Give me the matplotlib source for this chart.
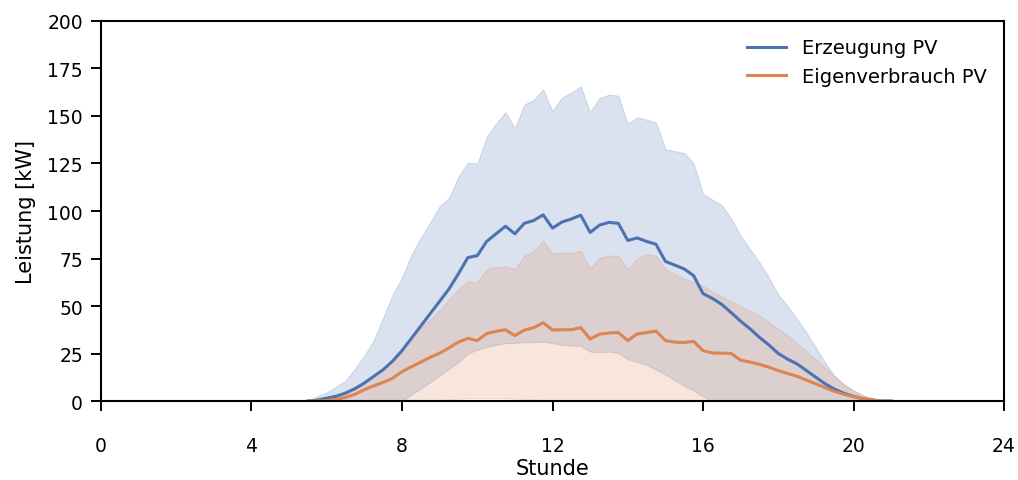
import matplotlib
matplotlib.use("Agg")
import matplotlib.pyplot as plt
import numpy as np

# 15-minute time steps (hours)
hours = [5.50, 5.75, 6.00, 6.25, 6.50, 6.75, 7.00, 7.25, 7.50, 7.75,
         8.00, 8.25, 8.50, 8.75, 9.00, 9.25, 9.50, 9.75, 10.00, 10.25,
         10.50, 10.75, 11.00, 11.25, 11.50, 11.75, 12.00, 12.25, 12.50, 12.75,
         13.00, 13.25, 13.50, 13.75, 14.00, 14.25, 14.50, 14.75, 15.00, 15.25,
         15.50, 15.75, 16.00, 16.25, 16.50, 16.75, 17.00, 17.25, 17.50, 17.75,
         18.00, 18.25, 18.50, 18.75, 19.00, 19.25, 19.50, 19.75, 20.00, 20.25,
         20.50, 20.75, 21.00]

# Erzeugung PV: mean, lower and upper band
pv_mean = [0, 0.5, 1.5, 2.5, 4.2, 6.5, 9.5, 13, 16.5, 21,
           26.5, 33, 39.5, 46, 52.5, 59, 67, 75.5, 76.5, 84,
           88, 92, 88, 93.5, 95, 98, 91, 94.2, 95.8, 97.8,
           88.7, 92.6, 94, 93.5, 84.5, 85.8, 84, 82.5, 73.5, 71.5,
           69.5, 66, 56.5, 54, 50.8, 46.5, 42, 38, 33.5, 29.5,
           25, 22, 19.5, 16, 12.5, 9, 6.2, 4, 2.5, 1.2,
           0.5, 0, 0]
pv_lo = [0, 0, 0, 0, 0, 0, 0, 0, 0, 0,
         0, 3.5, 6.5, 10, 13.5, 17, 20.5, 25, 27, 28.5,
         29.5, 30.5, 30.5, 31, 31, 31.2, 30.5, 29.5, 29.2, 29,
         26, 25.8, 26, 25.2, 22, 20.5, 19, 16.5, 14, 11,
         8, 5.5, 2.5, 0, 0, 0, 0, 0, 0, 0,
         0, 0, 0, 0, 0, 0, 0, 0, 0, 0,
         0, 0, 0]
pv_hi = [0, 2.5, 4.5, 7.5, 10.7, 17, 24, 32, 44, 56,
         65, 77, 86, 94, 102.5, 107, 118, 125.5, 125, 139,
         146, 152, 143.5, 156, 158.5, 164, 152.5, 159.8, 162.4, 165.6,
         152, 159.5, 161.2, 160.7, 145.8, 149.3, 148, 146.5, 132.5, 131.5,
         130.5, 125, 109, 106, 103, 96, 87, 80, 73, 65,
         56, 50, 43, 36, 28, 20, 13, 8.5, 5.5, 3,
         1.5, 0, 0]

# Eigenverbrauch PV: mean, lower and upper band
ev_mean = [0, 0, 0.3, 0.8, 2, 3.5, 6, 8, 9.8, 12,
           15.5, 18, 20.5, 23, 25.2, 28, 31, 33, 31.8, 35.5,
           36.7, 37.5, 34.4, 37.3, 38.6, 41.2, 37.4, 37.5, 37.5, 38.6,
           32.6, 35.2, 35.8, 36, 31.8, 35.3, 36, 36.8, 31.8, 31,
           30.8, 31.4, 26.5, 25.3, 25.2, 25, 21.5, 20.5, 19.3, 17.8,
           16, 14.5, 13, 11, 9, 7, 5, 3.5, 2.3, 1.2,
           0.5, 0, 0]
ev_lo = [0, 0, 0, 0, 0, 0, 0, 0, 0, 0,
         0, 0, 0, 0, 0.3, 0.8, 1.2, 1.5, 1.5, 1.5,
         1.5, 1.5, 1.2, 1, 0.8, 0.4, 0, 0, 0, 0,
         0, 0, 0, 0, 0, 0, 0, 0, 0, 0,
         0, 0, 0, 0, 0, 0, 0, 0, 0, 0,
         0, 0, 0, 0, 0, 0, 0, 0, 0, 0,
         0, 0, 0]
ev_hi = [0, 0.5, 1.5, 3, 5, 7.5, 10, 13, 16.5, 22,
         28, 34, 38.5, 43, 48, 53.5, 59, 63, 62.5, 69.5,
         70.5, 71, 69.5, 76.5, 79, 84.5, 77.5, 78.2, 78, 79,
         69.5, 75.5, 76.5, 76.5, 69.5, 75, 77.4, 76.5, 69.5, 67,
         64.5, 62.5, 60.5, 57.5, 55, 52.5, 50, 47.5, 45, 41.5,
         38, 34.5, 30.5, 26, 22, 17.5, 13, 9, 5.5, 3,
         1.2, 0, 0]

labels = ["Erzeugung PV", "Eigenverbrauch PV"]
colors = ["#4c72b0", "#dd8452"]
x_ticks = [0, 4, 8, 12, 16, 20, 24]
y_ticks = [0, 25, 50, 75, 100, 125, 150, 175, 200]

plt.rcParams['font.family'] = ['DejaVu Sans']
plt.rcParams['font.size'] = 13.5

fig = plt.figure(figsize=(10.18, 4.81), dpi=100)
ax = fig.add_axes([0.0992, 0.1642, 0.8871, 0.7901])

for mean, lo, hi, lab, col in [(pv_mean, pv_lo, pv_hi, labels[0], colors[0]),
                                (ev_mean, ev_lo, ev_hi, labels[1], colors[1])]:
    ax.plot(hours, mean, color=col, lw=2.2, label=lab)
    ax.fill_between(hours, lo, hi, color=col, alpha=0.2, linewidth=0.8)

ax.set_xlim(0, 24)
ax.set_ylim(0, 200)
ax.set_xticks(x_ticks, labels=[str(v) for v in x_ticks], fontsize=13.5)
ax.set_yticks(y_ticks, labels=[str(v) for v in y_ticks], fontsize=13.5)
ax.tick_params(axis='both', length=7, width=1.4)
ax.tick_params(axis='x', pad=18)
ax.tick_params(axis='y', pad=6)
for s in ax.spines.values():
    s.set_linewidth(1.5)
ax.set_xlabel("Stunde", fontsize=15, labelpad=2)
ax.set_ylabel("Leistung [kW]", fontsize=15, labelpad=8)
ax.legend(loc='upper right', frameon=False, fontsize=14)

fig.savefig("out.png", dpi=100)
